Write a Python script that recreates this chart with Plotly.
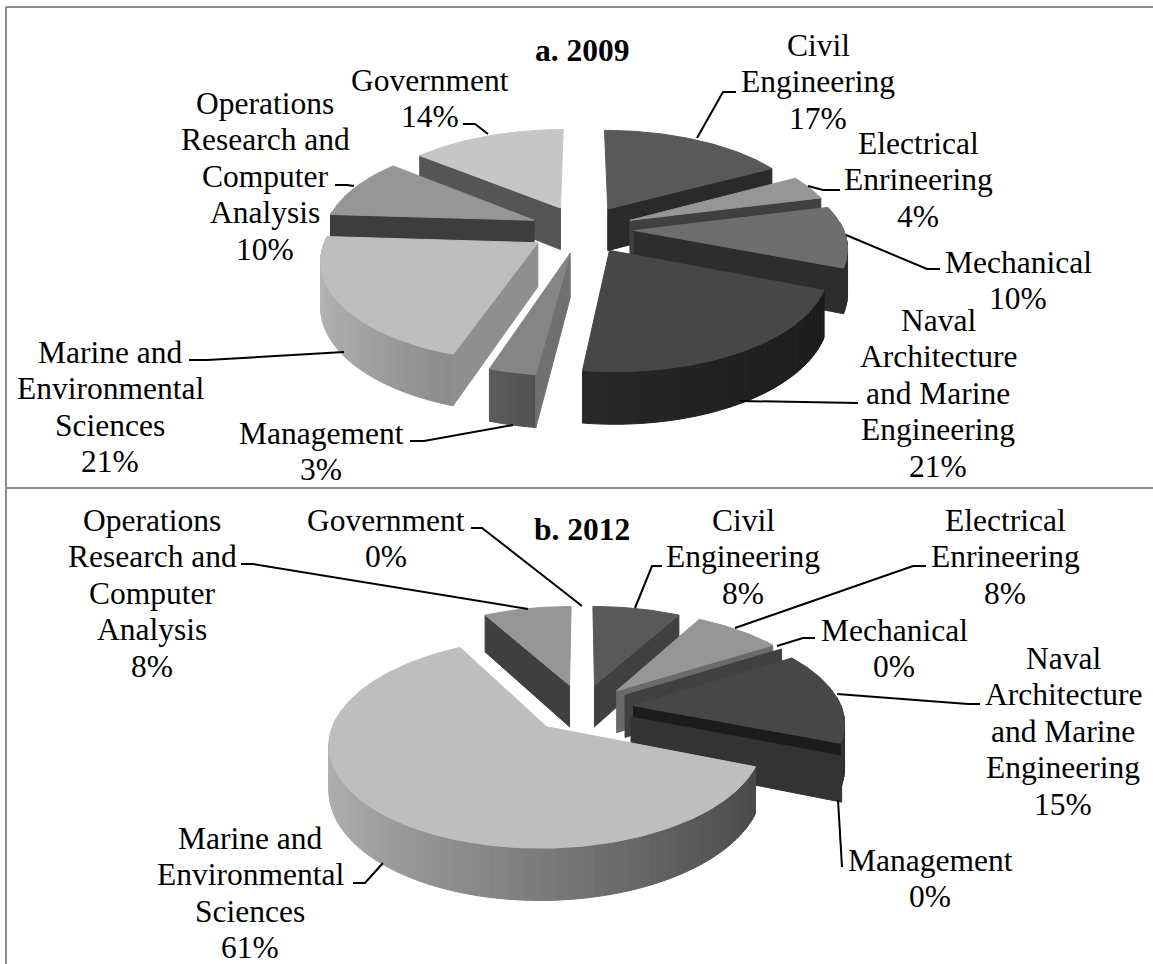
import math
import plotly.graph_objects as go

# Share of each department, in percent, and the order the slices run clockwise from 12 o'clock
categories = ["Civil<br>Engineering", "Electrical<br>Enrineering", "Mechanical",
              "Naval<br>Architecture<br>and Marine<br>Engineering", "Management",
              "Marine and<br>Environmental<br>Sciences",
              "Operations<br>Research and<br>Computer<br>Analysis", "Government"]
values_2009 = [17, 4, 10, 21, 3, 21, 10, 14]
values_2012 = [8, 8, 0, 15, 0, 61, 8, 0]

# Slice colours
TOP = ["#595959", "#969696", "#6e6e6e", "#474747", "#858585", "#bebebe", "#969696", "#c6c6c6"]
CUT_2009 = ["#2a2a2a", "#404040", "#2d2d2d", "#1c1c1c", "#707070", "#8f8f8f", "#3d3d3d", "#555555"]
CUT_2012 = ["#404040", "#6a6a6a", "#404040", "#1c1c1c", "#333333", "#8f8f8f", "#3f3f3f", "#555555"]
RIM_2009 = [("#2a2a2a",) * 2, ("#404040",) * 2, ("#303030",) * 2, ("#1c1c1c", "#282828"),
            ("#505050", "#5c5c5c"), ("#8a8a8a", "#b4b4b4"), ("#3d3d3d",) * 2, ("#555555",) * 2]
RIM_2012 = [("#404040",) * 2, ("#6a6a6a",) * 2, ("#404040",) * 2, ("#333333",) * 2,
            ("#333333",) * 2, ("#4a4a4a", "#b0b0b0"), ("#3f3f3f",) * 2, ("#555555",) * 2]

# Label anchors: centre x, y of the first line; leader polylines run from the slice to the text
FONT = "Liberation Serif"
FONT_SIZE = 31.5
LINE_PITCH = 36.6
LABELS_2009 = [(818, 45), (918, 143), (1018, 262), (938, 320), (321, 433), (110, 352), (265, 103), (430, 80)]
LABELS_2012 = [(743, 520), (1005, 520), (894, 630), (1063, 658), (930, 860), (250, 838), (152, 520), (386, 520)]
LEADERS_2009 = [[(697, 138), (723, 92), (736, 92)], [(808, 186), (823, 190), (840, 190)],
                [(846, 235), (927, 269), (940, 269)], [(740, 401), (858, 403)],
                [(513, 425), (424, 441), (410, 441)], [(344, 352), (207, 360), (189, 360)],
                [(354, 186), (347, 185), (335, 185)], [(488, 134), (475, 124), (463, 124)]]
LEADERS_2012 = [[(635, 608), (652, 566), (662, 566)], [(735, 628), (913, 566), (926, 566)],
                [(777, 646), (803, 638), (815, 638)], [(837, 694), (968, 704), (980, 704)],
                [(838, 800), (842, 867)], [(383, 863), (365, 883), (353, 883)],
                [(528, 609), (253, 564), (241, 564)], [(582, 606), (482, 528), (471, 528)]]


def hex_mix(a, b, t):
    ca = [int(a[i:i + 2], 16) for i in (1, 3, 5)]
    cb = [int(b[i:i + 2], 16) for i in (1, 3, 5)]
    return "#" + "".join(f"{round(x + (y - x) * t):02x}" for x, y in zip(ca, cb))


def add_poly(fig, xs, ys, colour):
    fig.add_trace(go.Scatter(x=xs + xs[:1], y=ys + ys[:1], mode="lines", fill="toself",
                             fillcolor=colour, line=dict(color=colour, width=1),
                             hoverinfo="skip", showlegend=False))


def draw_pie(fig, values, cuts, rims, cx, cy, rx, ry, depth, explode=0.25, persp=0.15):
    total = sum(values)

    def project(u, v, drop=0.0):
        s = 1 / (1 - persp * v)
        return cx + rx * u * s, cy + (ry * v + drop) * s

    slices, acc = [], 0.0
    for i, val in enumerate(values):
        a0 = 2 * math.pi * acc / total
        acc += val
        a1 = 2 * math.pi * acc / total
        mid = (a0 + a1) / 2
        slices.append((i, a0, a1, explode * math.sin(mid), -explode * math.cos(mid)))

    # Paint from the back of the pie to the front
    for i, a0, a1, ou, ov in sorted(slices, key=lambda t: t[4]):
        rim = lambda a, drop=0.0: project(ou + math.sin(a), ov - math.cos(a), drop)
        apex = lambda drop=0.0: project(ou, ov, drop)

        # Curved outer wall, shaded strip by strip from right to left
        lo = max(a0, math.radians(85))
        hi = min(a1, math.radians(275))
        if hi > lo:
            n = max(1, int(math.degrees(hi - lo) / 1.5))
            u_lo, u_hi = math.sin(lo), math.sin(hi)
            for k in range(n):
                b0 = lo + (hi - lo) * k / n
                b1 = lo + (hi - lo) * (k + 1) / n
                t = (u_lo - math.sin((b0 + b1) / 2)) / ((u_lo - u_hi) or 1)
                pts = [rim(b0), rim(b1), rim(b1, depth), rim(b0, depth)]
                add_poly(fig, [p[0] for p in pts], [p[1] for p in pts],
                         hex_mix(rims[i][0], rims[i][1], max(0, min(1, t))))

        # Cut faces that turn toward the viewer
        for a, visible in ((a0, math.sin(a0) < -1e-6), (a1, math.sin(a1) > 1e-6)):
            if visible:
                pts = [apex(), rim(a), rim(a, depth), apex(depth)]
                add_poly(fig, [p[0] for p in pts], [p[1] for p in pts], cuts[i])

        # Top surface
        if a1 > a0:
            n = max(2, int(math.degrees(a1 - a0)))
            pts = [apex()] + [rim(a0 + (a1 - a0) * k / n) for k in range(n + 1)]
            add_poly(fig, [p[0] for p in pts], [p[1] for p in pts], TOP[i])


def draw_labels(fig, values, anchors, leaders):
    for name, val, (x, y), leader in zip(categories, values, anchors, leaders):
        fig.add_trace(go.Scatter(x=[p[0] for p in leader], y=[p[1] for p in leader], mode="lines",
                                 line=dict(color="#000000", width=2),
                                 hoverinfo="skip", showlegend=False))
        for n, line in enumerate(name.split("<br>") + [f"{val}%"]):
            fig.add_annotation(x=x, y=y + n * LINE_PITCH, text=line, showarrow=False,
                               xanchor="center", yanchor="middle",
                               font=dict(family=FONT, size=FONT_SIZE, color="#000000"))


fig = go.Figure()
draw_pie(fig, values_2009, CUT_2009, RIM_2009, cx=582, cy=229, rx=209, ry=96, depth=43)
draw_pie(fig, values_2012, CUT_2012, RIM_2012, cx=582, cy=708, rx=208, ry=97, depth=43)
draw_labels(fig, values_2009, LABELS_2009, LEADERS_2009)
draw_labels(fig, values_2012, LABELS_2012, LEADERS_2012)

for title, x, y in (("a. 2009", 582, 50), ("b. 2012", 582, 529)):
    fig.add_annotation(x=x, y=y, text=f"<b>{title}</b>", showarrow=False,
                       font=dict(family=FONT, size=FONT_SIZE, color="#000000"))

frame = dict(color="#8c8c8c", width=2)
fig.update_layout(
    width=1153, height=964, margin=dict(l=0, r=0, t=0, b=0),
    paper_bgcolor="#ffffff", plot_bgcolor="#ffffff", showlegend=False,
    xaxis=dict(range=[0, 1153], visible=False, fixedrange=True),
    yaxis=dict(range=[964, 0], visible=False, fixedrange=True),
    shapes=[
        dict(type="line", x0=6, x1=1153, y0=7, y1=7, line=frame),
        dict(type="line", x0=6, x1=6, y0=7, y1=964, line=frame),
        dict(type="line", x0=6, x1=1153, y0=488, y1=488, line=frame),
    ],
)

fig.write_html("out.html", config=dict(displayModeBar=False))
